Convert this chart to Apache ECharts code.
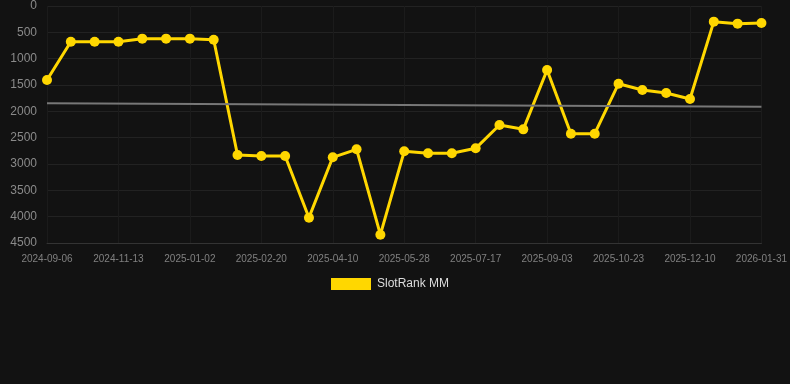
<!DOCTYPE html>
<html><head><meta charset="utf-8">
<script src="https://cdn.jsdelivr.net/npm/echarts@6/dist/echarts.min.js"></script>
<style>html,body{margin:0;padding:0;background:#121212;}#c{width:790px;height:384px;}</style>
</head><body><div id="c"></div>
<script>
const dates = ["2024-09-06","2024-09-29","2024-10-21","2024-11-13","2024-11-30","2024-12-17","2025-01-02","2025-01-18","2025-02-04","2025-02-20","2025-03-08","2025-03-24","2025-04-10","2025-04-26","2025-05-12","2025-05-28","2025-06-14","2025-06-30","2025-07-17","2025-08-02","2025-08-18","2025-09-03","2025-09-19","2025-10-06","2025-10-23","2025-11-08","2025-11-24","2025-12-10","2025-12-27","2026-01-13","2026-01-31"];
const rankValues = [1405,678,678,678,620,620,620,640,2829,2848,2848,4019,2873,2721,4342,2759,2797,2797,2702,2259,2342,1215,2424,2424,1475,1595,1652,1766,297,335,323];
const trendStart = 1848;
const trendEnd = 1911;
const seriesName = "SlotRank MM";

const trendData = dates.map((d, i) => i === 0 ? trendStart : (i === dates.length - 1 ? trendEnd : null));

const chart = echarts.init(document.getElementById('c'));
chart.setOption({
  backgroundColor: '#121212',
  animation: false,
  grid: {left: 47, right: 28, top: 6, bottom: 141},
  legend: {
    data: [seriesName], top: 278, left: 331,
    itemWidth: 40, itemHeight: 12, itemGap: 10,
    textStyle: {color: '#dddddd', fontSize: 12, padding: [0, 0, 0, 1]},
    icon: 'rect', padding: 0
  },
  xAxis: {
    type: 'category', data: dates, boundaryGap: false,
    axisLine: {onZero: false, lineStyle: {color: '#333'}},
    axisTick: {show: false},
    axisLabel: {color: '#808080', fontSize: 10, interval: 2, margin: 11},
    splitLine: {show: true, interval: 2, lineStyle: {color: '#1b1b1b'}}
  },
  yAxis: {
    type: 'value', inverse: true, min: 0, max: 4500, interval: 500,
    axisLine: {show: false}, axisTick: {show: false},
    axisLabel: {color: '#8a8a8a', fontSize: 12, margin: 10, formatter: v => String(v)},
    splitLine: {lineStyle: {color: '#222222'}}
  },
  series: [
    {
      name: seriesName, type: 'line', data: rankValues,
      symbol: 'circle', symbolSize: 10,
      lineStyle: {color: '#FFD700', width: 3},
      itemStyle: {color: '#FFD700'}
    },
    {
      name: 'trend', type: 'line', data: trendData, connectNulls: true,
      symbol: 'none', lineStyle: {color: '#777777', width: 2},
      itemStyle: {color: '#777777'}
    }
  ]
});
</script></body></html>
